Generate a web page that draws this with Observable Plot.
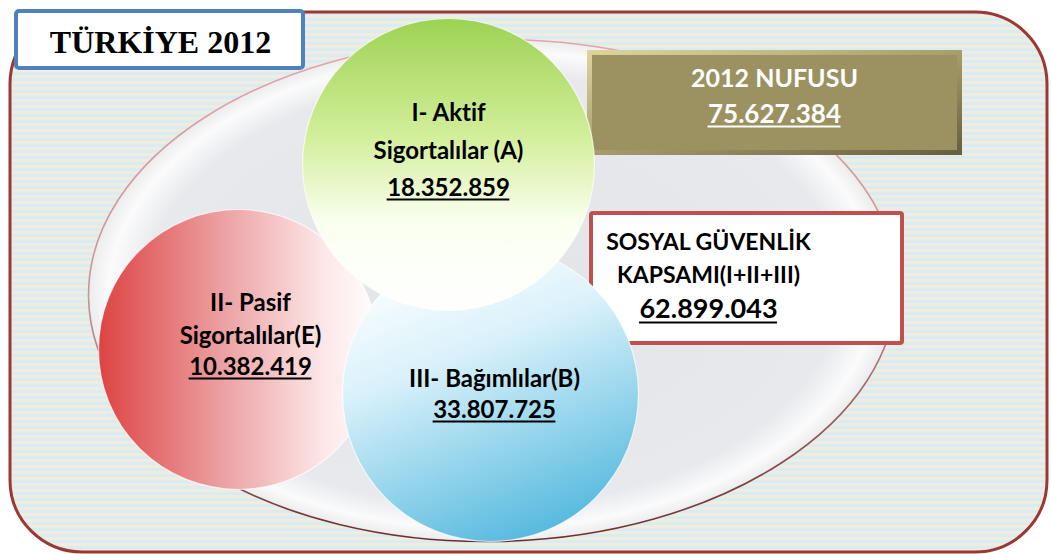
<!DOCTYPE html>
<html><head><meta charset="utf-8">
<script src="https://cdn.jsdelivr.net/npm/d3@7"></script>
<script src="https://cdn.jsdelivr.net/npm/@observablehq/plot@0.6"></script>
<style>html,body{margin:0;padding:0;background:#fff;} #chart svg{display:block;} #chart svg text{font-variant-ligatures:none;font-feature-settings:"liga" 0;}</style>
</head><body><div id="chart"></div>
<script>
// ---------- DATA ----------
const title = "TÜRKİYE 2012";
const categories = ["I- Aktif Sigortalılar (A)", "II- Pasif Sigortalılar (E)", "III- Bağımlılar (B)"];
const labelLine1 = ["I- Aktif", "II- Pasif", "III- Bağımlılar(B)"];
const labelLine2 = ["Sigortalılar (A)", "Sigortalılar(E)", ""];
const insured = [18352859, 10382419, 33807725];
const populationLabel = "2012 NUFUSU";
const population = 75627384;
const coverageLabel = ["SOSYAL GÜVENLİK", "KAPSAMI(I+II+III)"];
const coverage = 62899043;

const fmt = d3.formatLocale({decimal: ",", thousands: ".", grouping: [3], currency: ["", ""]}).format(",d");

// ---------- LAYOUT (pixels) ----------
const W = 1051, H = 554;
const FONT = "Lato, 'Open Sans', sans-serif";
const frameLayout = {x1: 10, x2: 1047, y1: 12, y2: 552};
const ellipseLayout = {cx: 492, cy: 290, rx: 404, aspect: 251 / 404, rotate: -1};
const titleBox = {x1: 14, x2: 305, y1: 9, y2: 70, tx: 160, ty: 52};
const popBox = {x1: 587, x2: 962, y1: 50, y2: 155, tx: 774, ty1: 86, ty2: 122};
const covBox = {x1: 589, x2: 904, y1: 211, y2: 345, tx: 708, ty1: 249, ty2: 282, ty3: 317};
const circleLayout = [
  {cx: 448, cy: 164, r: 146, fill: "url(#gradGreen)", tx: 448, y1: 120, y2: 158, yv: 195},
  {cx: 238, cy: 349, r: 140, fill: "url(#gradRed)", tx: 250, y1: 310, y2: 343, yv: 374},
  {cx: 490, cy: 393, r: 148, fill: "url(#gradBlue)", tx: 494, y1: 386, y2: null, yv: 417}
];
const drawOrder = [1, 2, 0];
const sizes = {circle: 24, popLabel: 25, popValue: 26, covLabel: 23, covValue: 27};

// ---------- TABLES ----------
const circles = categories.map((c, i) => ({category: c, value: insured[i], ...circleLayout[i]}));
const circleLabels = [];
const circleValues = [];
categories.forEach((c, i) => {
  const L = circleLayout[i];
  circleLabels.push({text: labelLine1[i], x: L.tx, y: L.y1});
  if (L.y2 != null && labelLine2[i]) circleLabels.push({text: labelLine2[i], x: L.tx, y: L.y2});
  circleValues.push({text: fmt(insured[i]), x: L.tx, y: L.yv, size: sizes.circle, color: "#000000"});
});
const popValue = {text: fmt(population), x: popBox.tx, y: popBox.ty2, size: sizes.popValue, color: "#ffffff"};
const covValue = {text: fmt(coverage), x: covBox.tx, y: covBox.ty3, size: sizes.covValue, color: "#000000"};

// underline spans measured from the rendered font
const measureCtx = document.createElement("canvas").getContext("2d");
function textWidth(t, size) { measureCtx.font = `bold ${size}px ${FONT}`; return measureCtx.measureText(t).width; }
const underlines = [...circleValues, popValue, covValue].map(d => {
  const w = textWidth(d.text, d.size);
  return {x1: d.x - w / 2, x2: d.x + w / 2, y: d.y + Math.round(d.size * 0.17), color: d.color};
});

const ellipseSymbol = {
  draw(context, size) {
    const rx = Math.sqrt(size / Math.PI), ry = rx * ellipseLayout.aspect, k = 0.5522847498;
    context.moveTo(rx, 0);
    context.bezierCurveTo(rx, ry * k, rx * k, ry, 0, ry);
    context.bezierCurveTo(-rx * k, ry, -rx, ry * k, -rx, 0);
    context.bezierCurveTo(-rx, -ry * k, -rx * k, -ry, 0, -ry);
    context.bezierCurveTo(rx * k, -ry, rx, -ry * k, rx, 0);
    context.closePath();
  }
};

const textBase = {x: "x", y: "y", text: "text", fontFamily: FONT, fontWeight: "bold", textAnchor: "middle", lineAnchor: "bottom"};

const marks = [
  Plot.rect([frameLayout], {x1: "x1", x2: "x2", y1: "y1", y2: "y2", rx: 72, fill: "url(#stripes)", stroke: "#9c3832", strokeWidth: 3, ariaLabel: "frame"}),
  Plot.dot([ellipseLayout], {x: "cx", y: "cy", r: ellipseLayout.rx, symbol: ellipseSymbol, rotate: ellipseLayout.rotate,
    fill: "url(#gradEllipse)", stroke: "url(#gradEllipseStroke)", strokeWidth: 1.6, ariaLabel: "ellipse"}),
  Plot.rect([popBox], {x1: "x1", x2: "x2", y1: "y1", y2: "y2", fill: "#9c9161", stroke: "url(#gradBevel)", strokeWidth: 5, inset: 2.5, ariaLabel: "popbox"}),
  Plot.rect([covBox], {x1: "x1", x2: "x2", y1: "y1", y2: "y2", rx: 2, fill: "#ffffff", stroke: "#c0504d", strokeWidth: 4, inset: 2, ariaLabel: "covbox"}),
  ...drawOrder.map(i => Plot.dot([circles[i]], {x: "cx", y: "cy", r: circles[i].r, fill: circles[i].fill,
    stroke: "#ffffff", strokeOpacity: 0.7, strokeWidth: 1.2, ariaLabel: "circle"})),
  Plot.rect([titleBox], {x1: "x1", x2: "x2", y1: "y1", y2: "y2", rx: 3, fill: "#ffffff", stroke: "#4f81bd", strokeWidth: 4, inset: 2, ariaLabel: "titlebox"}),
  Plot.text([{text: title, x: titleBox.tx, y: titleBox.ty}], {...textBase, fontFamily: "'Liberation Serif', 'Times New Roman', serif", fontSize: 32, fill: "#000"}),
  Plot.text([{text: populationLabel, x: popBox.tx, y: popBox.ty1}], {...textBase, fontSize: sizes.popLabel, fill: "#ffffff"}),
  Plot.text([popValue], {...textBase, fontSize: sizes.popValue, fill: "#ffffff"}),
  Plot.text(coverageLabel.map((t, j) => ({text: t, x: covBox.tx, y: j ? covBox.ty2 : covBox.ty1})), {...textBase, fontSize: sizes.covLabel, fill: "#000"}),
  Plot.text([covValue], {...textBase, fontSize: sizes.covValue, fill: "#000"}),
  Plot.text(circleLabels, {...textBase, fontSize: sizes.circle, fill: "#000"}),
  Plot.text(circleValues, {...textBase, fontSize: sizes.circle, fill: "#000"}),
  Plot.ruleY(underlines.filter(d => d.color === "#000000"), {x1: "x1", x2: "x2", y: "y", stroke: "#000000", strokeWidth: 2}),
  Plot.ruleY(underlines.filter(d => d.color === "#ffffff"), {x1: "x1", x2: "x2", y: "y", stroke: "#ffffff", strokeWidth: 2})
];

const svg = Plot.plot({
  width: W, height: H, margin: 0,
  x: {type: "identity", axis: null},
  y: {type: "identity", axis: null},
  style: {background: "#ffffff", overflow: "visible"},
  marks
});

const defs = document.createElementNS("http://www.w3.org/2000/svg", "defs");
defs.innerHTML = `
<pattern id="stripes" patternUnits="userSpaceOnUse" width="8" height="6">
  <rect width="8" height="3" fill="#dbecf1"/><rect y="3" width="8" height="3" fill="#efece2"/>
</pattern>
<radialGradient id="gradEllipse" cx="0.5" cy="0.5" r="0.5">
  <stop offset="0" stop-color="#e2e4e8"/><stop offset="0.86" stop-color="#e7e9ec"/>
  <stop offset="0.95" stop-color="#fbfbfc"/><stop offset="1" stop-color="#ebeced"/>
</radialGradient>
<linearGradient id="gradEllipseStroke" x1="0" y1="0" x2="0" y2="1">
  <stop offset="0" stop-color="#e4a4ab"/><stop offset="0.5" stop-color="#c69596"/><stop offset="1" stop-color="#6d2d2f"/>
</linearGradient>
<linearGradient id="gradGreen" x1="0" y1="0" x2="0" y2="1">
  <stop offset="0" stop-color="#9dd253"/><stop offset="0.4" stop-color="#d2ee9a"/>
  <stop offset="0.7" stop-color="#fafff0"/><stop offset="1" stop-color="#ffffff"/>
</linearGradient>
<linearGradient id="gradRed" x1="0" y1="0" x2="1" y2="0">
  <stop offset="0" stop-color="#de4343"/><stop offset="0.45" stop-color="#eca2a4"/>
  <stop offset="0.8" stop-color="#fde6e7"/><stop offset="1" stop-color="#ffffff"/>
</linearGradient>
<linearGradient id="gradBlue" x1="0.3" y1="0" x2="0.7" y2="1">
  <stop offset="0" stop-color="#ffffff"/><stop offset="0.35" stop-color="#d9f1fa"/><stop offset="1" stop-color="#4fb7dd"/>
</linearGradient>
<linearGradient id="gradBevel" x1="0" y1="0" x2="1" y2="1">
  <stop offset="0" stop-color="#ddd49c"/><stop offset="0.5" stop-color="#a89d6b"/><stop offset="1" stop-color="#676040"/>
</linearGradient>
<filter id="shadow" x="-20%" y="-20%" width="140%" height="140%">
  <feDropShadow dx="2" dy="4" stdDeviation="4" flood-color="#000" flood-opacity="0.4"/>
</filter>
<filter id="softShadow" x="-10%" y="-10%" width="120%" height="120%">
  <feDropShadow dx="3" dy="3" stdDeviation="4" flood-color="#000" flood-opacity="0.3"/>
</filter>`;
svg.insertBefore(defs, svg.firstChild);

const s = d3.select(svg);
s.selectAll('g[aria-label="frame"]').attr("filter", "url(#softShadow)");
s.selectAll('g[aria-label="ellipse"]').attr("filter", "url(#softShadow)");
s.selectAll('g[aria-label="popbox"], g[aria-label="covbox"], g[aria-label="titlebox"], g[aria-label="circle"]').attr("filter", "url(#shadow)");

document.getElementById("chart").appendChild(svg);
</script>
</body></html>
